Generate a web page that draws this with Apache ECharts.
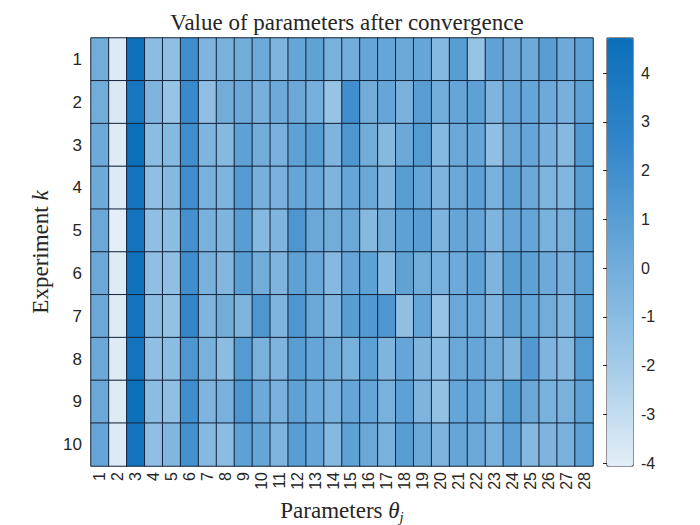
<!DOCTYPE html>
<html><head><meta charset="utf-8">
<script src="https://cdn.jsdelivr.net/npm/echarts@6/dist/echarts.min.js"></script>
<style>html,body{margin:0;padding:0;background:#fff}#c{width:700px;height:525px}</style>
</head><body><div id="c"></div>
<script>
var params = ['1','2','3','4','5','6','7','8','9','10','11','12','13','14','15','16','17','18','19','20','21','22','23','24','25','26','27','28'];
var experiments = ['1','2','3','4','5','6','7','8','9','10'];
var row1  = [0.0,-3.8,4.5,-1.0,-1.2,2.0,-0.5,-0.3,0.0,0.2,-0.5,0.5,0.7,-0.3,0.0,0.5,0.5,0.3,0.5,-0.8,1.0,-1.5,0.7,0.3,0.2,1.0,0.2,0.8];
var row2  = [0.0,-3.7,4.0,-0.5,-1.5,2.3,-1.2,0.0,0.3,-0.2,0.2,0.3,-0.2,-1.5,2.0,0.0,0.5,-0.3,1.0,0.0,0.5,0.8,-0.5,0.5,0.5,0.2,-0.2,0.8];
var row3  = [0.2,-3.9,4.7,-1.0,-0.8,2.0,-0.5,-0.8,0.8,0.0,-0.3,0.8,1.0,-0.5,1.5,0.0,-0.8,0.3,1.2,-0.8,0.3,0.5,-1.2,0.3,0.5,-0.2,-0.8,1.3];
var row4  = [0.2,-3.8,4.3,-1.2,-0.8,2.0,-0.3,-0.5,1.2,-0.2,-0.3,0.5,0.3,-0.5,0.5,0.3,-0.5,1.0,0.5,-0.5,0.3,0.8,-0.3,0.8,0.3,-0.5,-0.6,1.0];
var row5  = [0.3,-4.05,4.3,-1.2,-1.0,1.8,-0.3,-0.5,1.0,-0.8,-0.5,1.5,0.3,0.0,0.3,-0.8,0.0,0.8,1.0,-0.5,0.5,0.5,-0.5,0.5,0.5,-0.3,-0.3,1.0];
var row6  = [0.3,-3.9,4.4,-1.2,-1.2,2.0,-0.3,-0.7,1.0,0.0,-0.5,0.8,0.3,-0.8,0.5,0.8,-0.8,0.7,0.0,-0.3,0.2,0.8,-0.5,1.0,0.8,0.2,-0.2,0.8];
var row7  = [0.3,-3.9,4.3,-1.0,-1.3,2.5,-0.5,0.0,-0.5,1.5,-0.5,1.5,0.3,-0.5,1.0,1.3,1.5,-1.2,0.5,-1.5,0.3,0.3,-0.5,0.8,0.5,0.0,-0.5,1.0];
var row8  = [0.3,-3.9,4.3,-1.2,-1.0,1.5,-0.3,-1.0,1.2,-0.3,-0.5,1.0,0.5,0.0,-0.3,0.8,-0.5,0.5,-0.5,-1.0,0.3,0.5,0.0,-0.5,1.3,-0.5,-0.8,1.2];
var row9  = [0.3,-3.9,4.6,-1.0,-1.2,2.0,-0.5,-0.3,1.5,0.2,-0.3,0.8,0.2,-0.3,0.5,0.5,-0.3,0.8,-0.5,-1.3,0.5,0.5,-0.3,1.2,0.3,-0.3,-0.3,0.8];
var row10 = [0.5,-3.8,4.3,-1.2,-0.6,1.8,-0.8,-1.0,0.8,0.5,-0.5,1.0,0.5,-0.8,0.8,0.3,-0.3,1.0,0.3,-0.5,0.5,0.3,-0.3,0.8,-0.8,-0.5,-0.3,0.8];
var colorbarTicks = [-4,-3,-2,-1,0,1,2,3,4];
var cMin = -4.06, cMax = 4.72;

var rows = [row1,row2,row3,row4,row5,row6,row7,row8,row9,row10];
var data = [];
rows.forEach(function(r, yi){ r.forEach(function(v, xi){ data.push([xi, yi, v]); }); });

var chart = echarts.init(document.getElementById('c'), null, {renderer:'svg'});
var serif = 'Liberation Serif';
var sans = 'Liberation Sans';
var ink = '#262626';
chart.setOption({
  animation:false,
  backgroundColor:'#fff',
  title:{text:'Value of parameters after convergence', left:342, top:6, textAlign:'center',
    textStyle:{fontFamily:serif, fontWeight:'normal', fontSize:23, color:ink}},
  grid:[
    {left:91, top:38, width:502, height:428, outerBoundsMode:'none', containLabel:false},
    {left:607, top:38, width:26, height:428, show:true, borderColor:ink, borderWidth:1, outerBoundsMode:'none', containLabel:false}
  ],
  xAxis:[
    {type:'category', gridIndex:0, data:params, axisTick:{show:false}, axisLine:{show:false},
     axisLabel:{interval:0, rotate:90, fontFamily:sans, fontSize:16, color:ink, margin:6},
     name:'{a|Parameters }{b|θ}{c|j}', nameLocation:'middle', nameGap:31, nameMoveOverlap:false,
     nameTextStyle:{rich:{a:{fontFamily:serif,fontSize:23,color:ink},
       b:{fontFamily:serif,fontSize:23,fontStyle:'italic',color:ink},
       c:{fontFamily:serif,fontSize:15,fontStyle:'italic',color:ink,padding:[12,0,0,0]}}}},
    {type:'value', gridIndex:1, show:false, min:0, max:1}
  ],
  yAxis:[
    {type:'category', gridIndex:0, data:experiments, inverse:true, axisTick:{show:false}, axisLine:{show:false},
     axisLabel:{interval:0, fontFamily:sans, fontSize:17, color:ink, margin:9},
     name:'{a|Experiment }{b|k}', nameLocation:'middle', nameGap:39, nameRotate:90, nameMoveOverlap:false,
     nameTextStyle:{rich:{a:{fontFamily:serif,fontSize:23,color:ink},
       b:{fontFamily:serif,fontSize:23,fontStyle:'italic',color:ink}}}},
    {type:'value', gridIndex:1, position:'right', min:cMin, max:cMax,
     axisLine:{show:false}, splitLine:{show:false},
     axisTick:{show:true, inside:true, length:4, lineStyle:{color:ink}, customValues:colorbarTicks},
     axisLabel:{show:true, fontFamily:sans, fontSize:16, color:ink, margin:8, customValues:colorbarTicks}}
  ],
  visualMap:{type:'continuous', min:cMin, max:cMax, calculable:false, hoverLink:false,
    left:607, top:38, itemWidth:26, itemHeight:428, padding:0, text:null, showLabel:false,
    seriesIndex:0,
    inRange:{color:['#E3EEF8','#A0C9E8','#6AA8D8','#3386C9','#0B6FBA']}},
  series:[{type:'heatmap', xAxisIndex:0, yAxisIndex:0, data:data,
    itemStyle:{borderColor:'#14243a', borderWidth:1}, emphasis:{disabled:true}}]
});
</script></body></html>
